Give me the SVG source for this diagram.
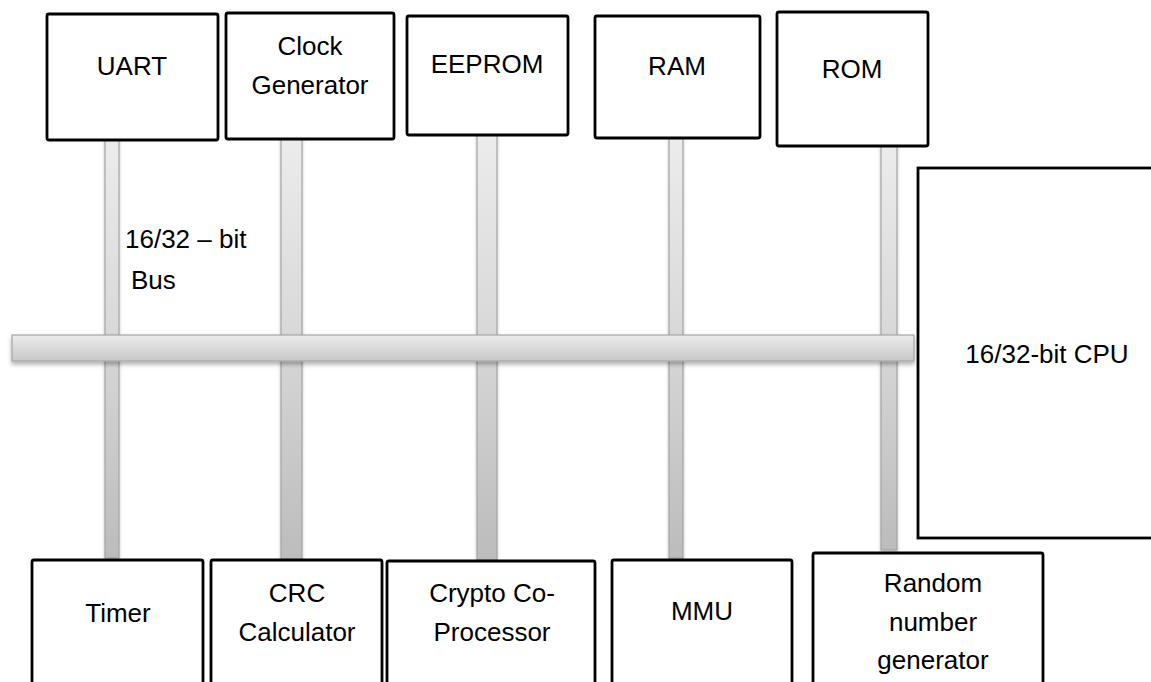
<svg xmlns="http://www.w3.org/2000/svg" width="1151" height="682" viewBox="0 0 1151 682">
  <style>
    .box { fill: #ffffff; stroke: #000000; stroke-width: 2.8; }
    .lbl { font-family: "Liberation Sans", Arial, sans-serif; font-size: 26px; fill: #000000; text-anchor: middle; }
    .note { font-family: "Liberation Sans", Arial, sans-serif; font-size: 26px; fill: #000000; }
    .pillar { fill: url(#pillarGrad); stroke: #a3a3a3; stroke-width: 1.2; filter: url(#softShadow); }
    .bus { fill: url(#busGrad); stroke: #a6a6a6; stroke-width: 1.2; filter: url(#busShadow); }
  </style>
  <defs>
    <linearGradient id="pillarGrad" x1="0" y1="0" x2="0" y2="1">
      <stop offset="0" stop-color="#ececec"/>
      <stop offset="0.45" stop-color="#d9d9d9"/>
      <stop offset="1" stop-color="#bcbcbc"/>
    </linearGradient>
    <linearGradient id="busGrad" x1="0" y1="0" x2="0" y2="1">
      <stop offset="0" stop-color="#ececec"/>
      <stop offset="1" stop-color="#c8c8c8"/>
    </linearGradient>
    <filter id="softShadow" x="-50%" y="-5%" width="200%" height="110%">
      <feDropShadow dx="0" dy="2" stdDeviation="1.5" flood-color="#000" flood-opacity="0.25"/>
    </filter>
    <filter id="busShadow" x="-5%" y="-50%" width="110%" height="200%">
      <feDropShadow dx="0" dy="3" stdDeviation="2" flood-color="#000" flood-opacity="0.3"/>
    </filter>
  </defs>

  <rect width="1151" height="682" fill="#ffffff"/>

  <!-- bus risers and the shared bus bar -->
  <g id="connectors">
    <rect class="pillar" x="105" y="138" width="14" height="420"/>
    <rect class="pillar" x="281" y="137" width="21" height="423"/>
    <rect class="pillar" x="477" y="133" width="20" height="427"/>
    <rect class="pillar" x="669" y="138" width="14" height="420"/>
    <rect class="pillar" x="881" y="143" width="16" height="407"/>
    <rect id="bus" class="bus" x="12" y="335" width="902" height="26"/>
  </g>

  <g id="bus-label">
    <text class="note" x="125" y="248">16/32 – bit</text>
    <text class="note" x="131" y="289">Bus</text>
  </g>

  <!-- top row -->
  <g id="uart">
    <rect class="box" x="47" y="14" width="171" height="126" rx="2"/>
    <text class="lbl" x="132" y="75">UART</text>
  </g>
  <g id="clock">
    <rect class="box" x="226" y="13" width="168" height="126" rx="2"/>
    <text class="lbl" x="310" y="55">Clock</text>
    <text class="lbl" x="310" y="94">Generator</text>
  </g>
  <g id="eeprom">
    <rect class="box" x="407" y="16" width="161" height="119" rx="2"/>
    <text class="lbl" x="487" y="73">EEPROM</text>
  </g>
  <g id="ram">
    <rect class="box" x="595" y="16" width="165" height="122" rx="2"/>
    <text class="lbl" x="677" y="75">RAM</text>
  </g>
  <g id="rom">
    <rect class="box" x="777" y="12" width="151" height="134" rx="2"/>
    <text class="lbl" x="852" y="78">ROM</text>
  </g>

  <!-- processor -->
  <g id="cpu">
    <rect class="box" x="918" y="168" width="250" height="370"/>
    <text class="lbl" x="1047" y="363">16/32-bit CPU</text>
  </g>

  <!-- bottom row -->
  <g id="timer">
    <rect class="box" x="32" y="560" width="171" height="140" rx="2"/>
    <text class="lbl" x="118" y="622">Timer</text>
  </g>
  <g id="crc">
    <rect class="box" x="211" y="560" width="171" height="140" rx="2"/>
    <text class="lbl" x="297" y="602">CRC</text>
    <text class="lbl" x="297" y="641">Calculator</text>
  </g>
  <g id="crypto">
    <rect class="box" x="387" y="561" width="208" height="140" rx="2"/>
    <text class="lbl" x="492" y="602">Crypto Co-</text>
    <text class="lbl" x="492" y="641">Processor</text>
  </g>
  <g id="mmu">
    <rect class="box" x="612" y="560" width="180" height="140" rx="2"/>
    <text class="lbl" x="702" y="620">MMU</text>
  </g>
  <g id="rng">
    <rect class="box" x="813" y="553" width="230" height="150" rx="2"/>
    <text class="lbl" x="933" y="592">Random</text>
    <text class="lbl" x="933" y="631">number</text>
    <text class="lbl" x="933" y="669">generator</text>
  </g>
</svg>
